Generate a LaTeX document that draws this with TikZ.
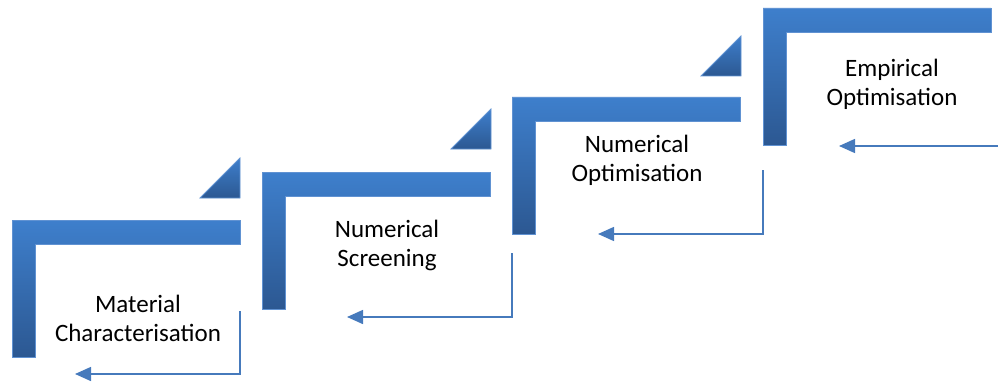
\documentclass[tikz,border=0pt]{standalone}
\usepackage{fontspec}
\setmainfont{Carlito}
\usetikzlibrary{arrows.meta}
\definecolor{stepTop}{RGB}{62,127,204}
\definecolor{stepBot}{RGB}{44,88,146}
\definecolor{stepEdge}{RGB}{96,146,210}
\definecolor{flow}{RGB}{70,122,188}
\tikzset{
  stepfill/.style={top color=stepTop, bottom color=stepBot, draw=stepEdge, line width=0.8pt},
  label/.style={align=center, font=\fontsize{25}{29}\selectfont, inner sep=0pt},
  flowline/.style={draw=flow, line width=1.5pt, -{Triangle[length=16pt,width=14pt]}},
}
% inverted L: top-left corner at (#1,#2)
\newcommand\stairL[2]{%
  \path[stepfill] (#1,#2) -- ++(228,0) -- ++(0,24) -- ++(-205,0) -- ++(0,113) -- ++(-23,0) -- cycle;}
% right triangle with its right angle at the bottom-right corner (#1,#2)
\newcommand\stairTri[2]{%
  \path[stepfill] (#1,#2) -- ++(-40,0) -- ++(40,-40) -- cycle;}
\begin{document}
\begin{tikzpicture}[x=1pt,y=-1pt]
  \useasboundingbox (0,0) rectangle (998,385);

  % steps
  \stairL{12}{220}
  \stairL{262}{172}
  \stairL{512}{97}
  \stairL{763}{8}

  % corner wedges
  \stairTri{240}{198}
  \stairTri{491}{149}
  \stairTri{741}{76}

  % labels
  \node[label] (mat) at (138,318) {Material\\Characterisation};
  \node[label] (scr) at (387,245) {Numerical\\Screening};
  \node[label] (opt) at (637,160) {Numerical\\Optimisation};
  \node[label] (emp) at (892,84) {Empirical\\Optimisation};

  % feedback arrows
  \coordinate (f1s) at (240,311); \coordinate (f1e) at (75,374);
  \coordinate (f2s) at (512,253); \coordinate (f2e) at (347,317);
  \coordinate (f3s) at (763,170); \coordinate (f3e) at (598,234);
  \coordinate (f4s) at (998,146); \coordinate (f4e) at (839,146);
  \draw[flowline] (f1s) |- (f1e);
  \draw[flowline] (f2s) |- (f2e);
  \draw[flowline] (f3s) |- (f3e);
  \draw[flowline] (f4s) -- (f4e);
\end{tikzpicture}
\end{document}
